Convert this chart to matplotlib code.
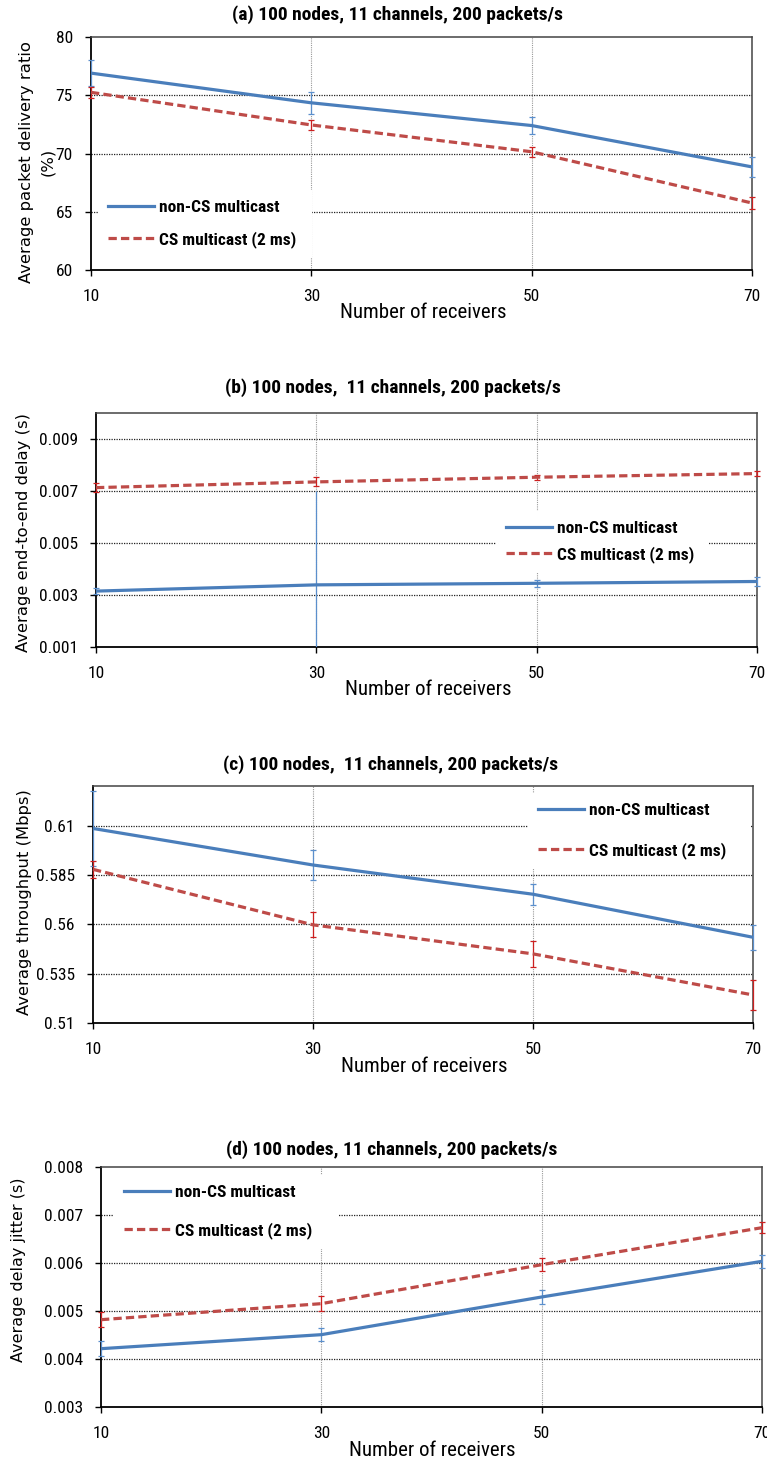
import matplotlib
matplotlib.use("Agg")
import matplotlib.pyplot as plt
from matplotlib import font_manager
from matplotlib.lines import Line2D

# ---------------- data ----------------
receivers = [10, 30, 50, 70]
xtick_labels = ["10", "30", "50", "70"]

pdr_noncs = [76.9, 74.35, 72.4, 68.85]
pdr_noncs_err = [1.1, 0.93, 0.7, 0.85]
pdr_cs = [75.25, 72.45, 70.15, 65.75]
pdr_cs_err = [0.45, 0.45, 0.45, 0.55]
pdr_ticks = [60, 65, 70, 75, 80]

delay_noncs = [0.00315, 0.00339, 0.00345, 0.00352]
delay_noncs_err = [0.00012, 0.00361, 0.00014, 0.00019]
delay_cs = [0.00713, 0.00735, 0.00753, 0.00767]
delay_cs_err = [0.00017, 0.00017, 0.0001, 0.0001]
delay_ticks = [0.001, 0.003, 0.005, 0.007, 0.009]

thr_noncs = [0.6085, 0.5900, 0.5752, 0.5534]
thr_noncs_err = [0.0190, 0.0074, 0.0054, 0.0062]
thr_cs = [0.5878, 0.5597, 0.5450, 0.5242]
thr_cs_err = [0.0044, 0.0063, 0.0065, 0.0075]
thr_ticks = [0.51, 0.535, 0.56, 0.585, 0.61]

jitter_noncs = [0.004215, 0.004507, 0.005292, 0.006035]
jitter_noncs_err = [0.00015, 0.00013, 0.00015, 0.00014]
jitter_cs = [0.004819, 0.005153, 0.005965, 0.006736]
jitter_cs_err = [0.00015, 0.00015, 0.00014, 0.00012]
jitter_ticks = [0.003, 0.004, 0.005, 0.006, 0.007, 0.008]

series_names = ["non-CS multicast", "CS multicast (2 ms)"]

# ---------------- style ----------------
W, H = 767, 1462
BLUE = "#4A7EBB"
RED = "#BE4B48"
BLUE_ERR = "#5B8FCC"
RED_ERR = "#CC2020"

installed = {f.name for f in font_manager.fontManager.ttflist}
NARROW = next((n for n in ["Liberation Sans Narrow", "Roboto Condensed",
                           "Open Sans Condensed", "Liberation Sans"] if n in installed),
              "DejaVu Sans")
plt.rcParams["font.family"] = [NARROW, "DejaVu Sans"]

fig = plt.figure(figsize=(W / 100, H / 100), dpi=100)


def fx(px):
    return px / W


def fy(py):
    return 1 - py / H


def panel(box, ylim, yticks, title, title_xy, ylabel, ylabel_xy, ylabel_size, xlabel_xy,
          noncs, noncs_err, cs, cs_err, legend_box, legend_pitch, capless=()):
    left, top, right, bottom = box
    ax = fig.add_axes([fx(left), fy(bottom), (right - left) / W, (bottom - top) / H])
    ax.set_xlim(receivers[0], receivers[-1])
    ax.set_ylim(*ylim)
    ax.set_xticks(receivers)
    ax.set_xticklabels(xtick_labels)
    ax.set_yticks(yticks)
    ax.set_yticklabels(["{:g}".format(v) for v in yticks])
    ax.tick_params(axis="both", direction="out", length=4, width=1.0,
                   labelsize=12.5, color="black")
    ax.tick_params(axis="y", pad=9)
    ax.tick_params(axis="x", pad=10)

    # gridlines: black dotted horizontals, light grey dotted verticals
    for v in yticks:
        if ylim[0] < v < ylim[1]:
            ax.axhline(v, color="#222222", linestyle=(0, (1, 1)), linewidth=0.9, zorder=1)
    for v in receivers[1:-1]:
        ax.axvline(v, color="#999999", linestyle=(0, (1, 1)), linewidth=0.8, zorder=1)

    for side in ["left", "bottom"]:
        ax.spines[side].set_color("black")
        ax.spines[side].set_linewidth(1.3)
    for side in ["top", "right"]:
        ax.spines[side].set_color("#444444")
        ax.spines[side].set_linewidth(1.1)

    ax.plot(receivers, noncs, color=BLUE, linewidth=2.3, zorder=4, clip_on=False,
            solid_capstyle="butt")
    ax.plot(receivers, cs, color=RED, linewidth=2.3, zorder=4, clip_on=False,
            linestyle=(0, (2.6, 1.3)))

    for i, x in enumerate(receivers):
        big = i in capless
        ax.errorbar([x], [noncs[i]], yerr=[noncs_err[i]], fmt="none",
                    ecolor=BLUE_ERR, elinewidth=0.9, capsize=0 if big else 2.5,
                    capthick=0.9, zorder=3, clip_on=big)
        ax.errorbar([x], [cs[i]], yerr=[cs_err[i]], fmt="none",
                    ecolor=RED_ERR, elinewidth=0.9, capsize=2.5,
                    capthick=0.9, zorder=3, clip_on=False)

    fig.text(fx(title_xy[0]), fy(title_xy[1]), title, ha="center", va="center",
             fontsize=14, fontweight="bold")
    fig.text(fx(xlabel_xy[0]), fy(xlabel_xy[1]), "Number of receivers",
             ha="center", va="center", fontsize=15)
    fig.text(fx(ylabel_xy[0]), fy(ylabel_xy[1]), ylabel, ha="center", va="center",
             rotation=90, fontsize=ylabel_size, family="DejaVu Sans", linespacing=1.45,
             multialignment="center")

    handles = [Line2D([], [], color=BLUE, linewidth=2.3),
               Line2D([], [], color=RED, linewidth=2.3, linestyle=(0, (2.6, 1.3)))]
    lx0, ltop, lx1 = legend_box
    fs = 12.5
    fs_px = fs * 100 / 72
    leg = ax.legend(handles, series_names, loc="upper left",
                    bbox_to_anchor=(fx(lx0), fy(ltop), (lx1 - lx0) / W, 0),
                    bbox_transform=fig.transFigure, mode="expand", borderaxespad=0,
                    frameon=True, facecolor="white", edgecolor="none", framealpha=1,
                    fancybox=False, handlelength=2.7, handletextpad=0.25,
                    borderpad=0.55, labelspacing=(legend_pitch - fs_px) / fs_px,
                    prop={"family": [NARROW, "DejaVu Sans"], "weight": "bold", "size": fs})
    leg.set_zorder(5)
    return ax


panel((91, 37, 752, 270), (60, 80), pdr_ticks,
      "(a) 100 nodes, 11 channels, 200 packets/s", (398, 15),
      "Average packet delivery ratio\n(%)", (37, 162), 11.8, (423, 313),
      pdr_noncs, pdr_noncs_err, pdr_cs, pdr_cs_err,
      (98, 190, 312), 34)

panel((96, 413, 757, 647), (0.001, 0.010), delay_ticks,
      "(b) 100 nodes,  11 channels, 200 packets/s", (393, 388),
      "Average end-to-end delay (s)", (24, 533), 11.8, (428, 690),
      delay_noncs, delay_noncs_err, delay_cs, delay_cs_err,
      (496, 511, 708), 28, capless=(1,))

panel((93, 786, 753, 1023), (0.51, 0.63), thr_ticks,
      "(c) 100 nodes,  11 channels, 200 packets/s", (391, 765),
      "Average throughput (Mbps)", (25, 902), 11.8, (424, 1066),
      thr_noncs, thr_noncs_err, thr_cs, thr_cs_err,
      (528, 793, 750), 42)

panel((101, 1167, 762, 1407), (0.003, 0.008), jitter_ticks,
      "(d) 100 nodes, 11 channels, 200 packets/s", (392, 1150),
      "Average delay jitter (s)", (19, 1270), 11.5, (432, 1450),
      jitter_noncs, jitter_noncs_err, jitter_cs, jitter_cs_err,
      (114, 1175, 338), 40)

fig.savefig("out.png", dpi=100, facecolor="white")
